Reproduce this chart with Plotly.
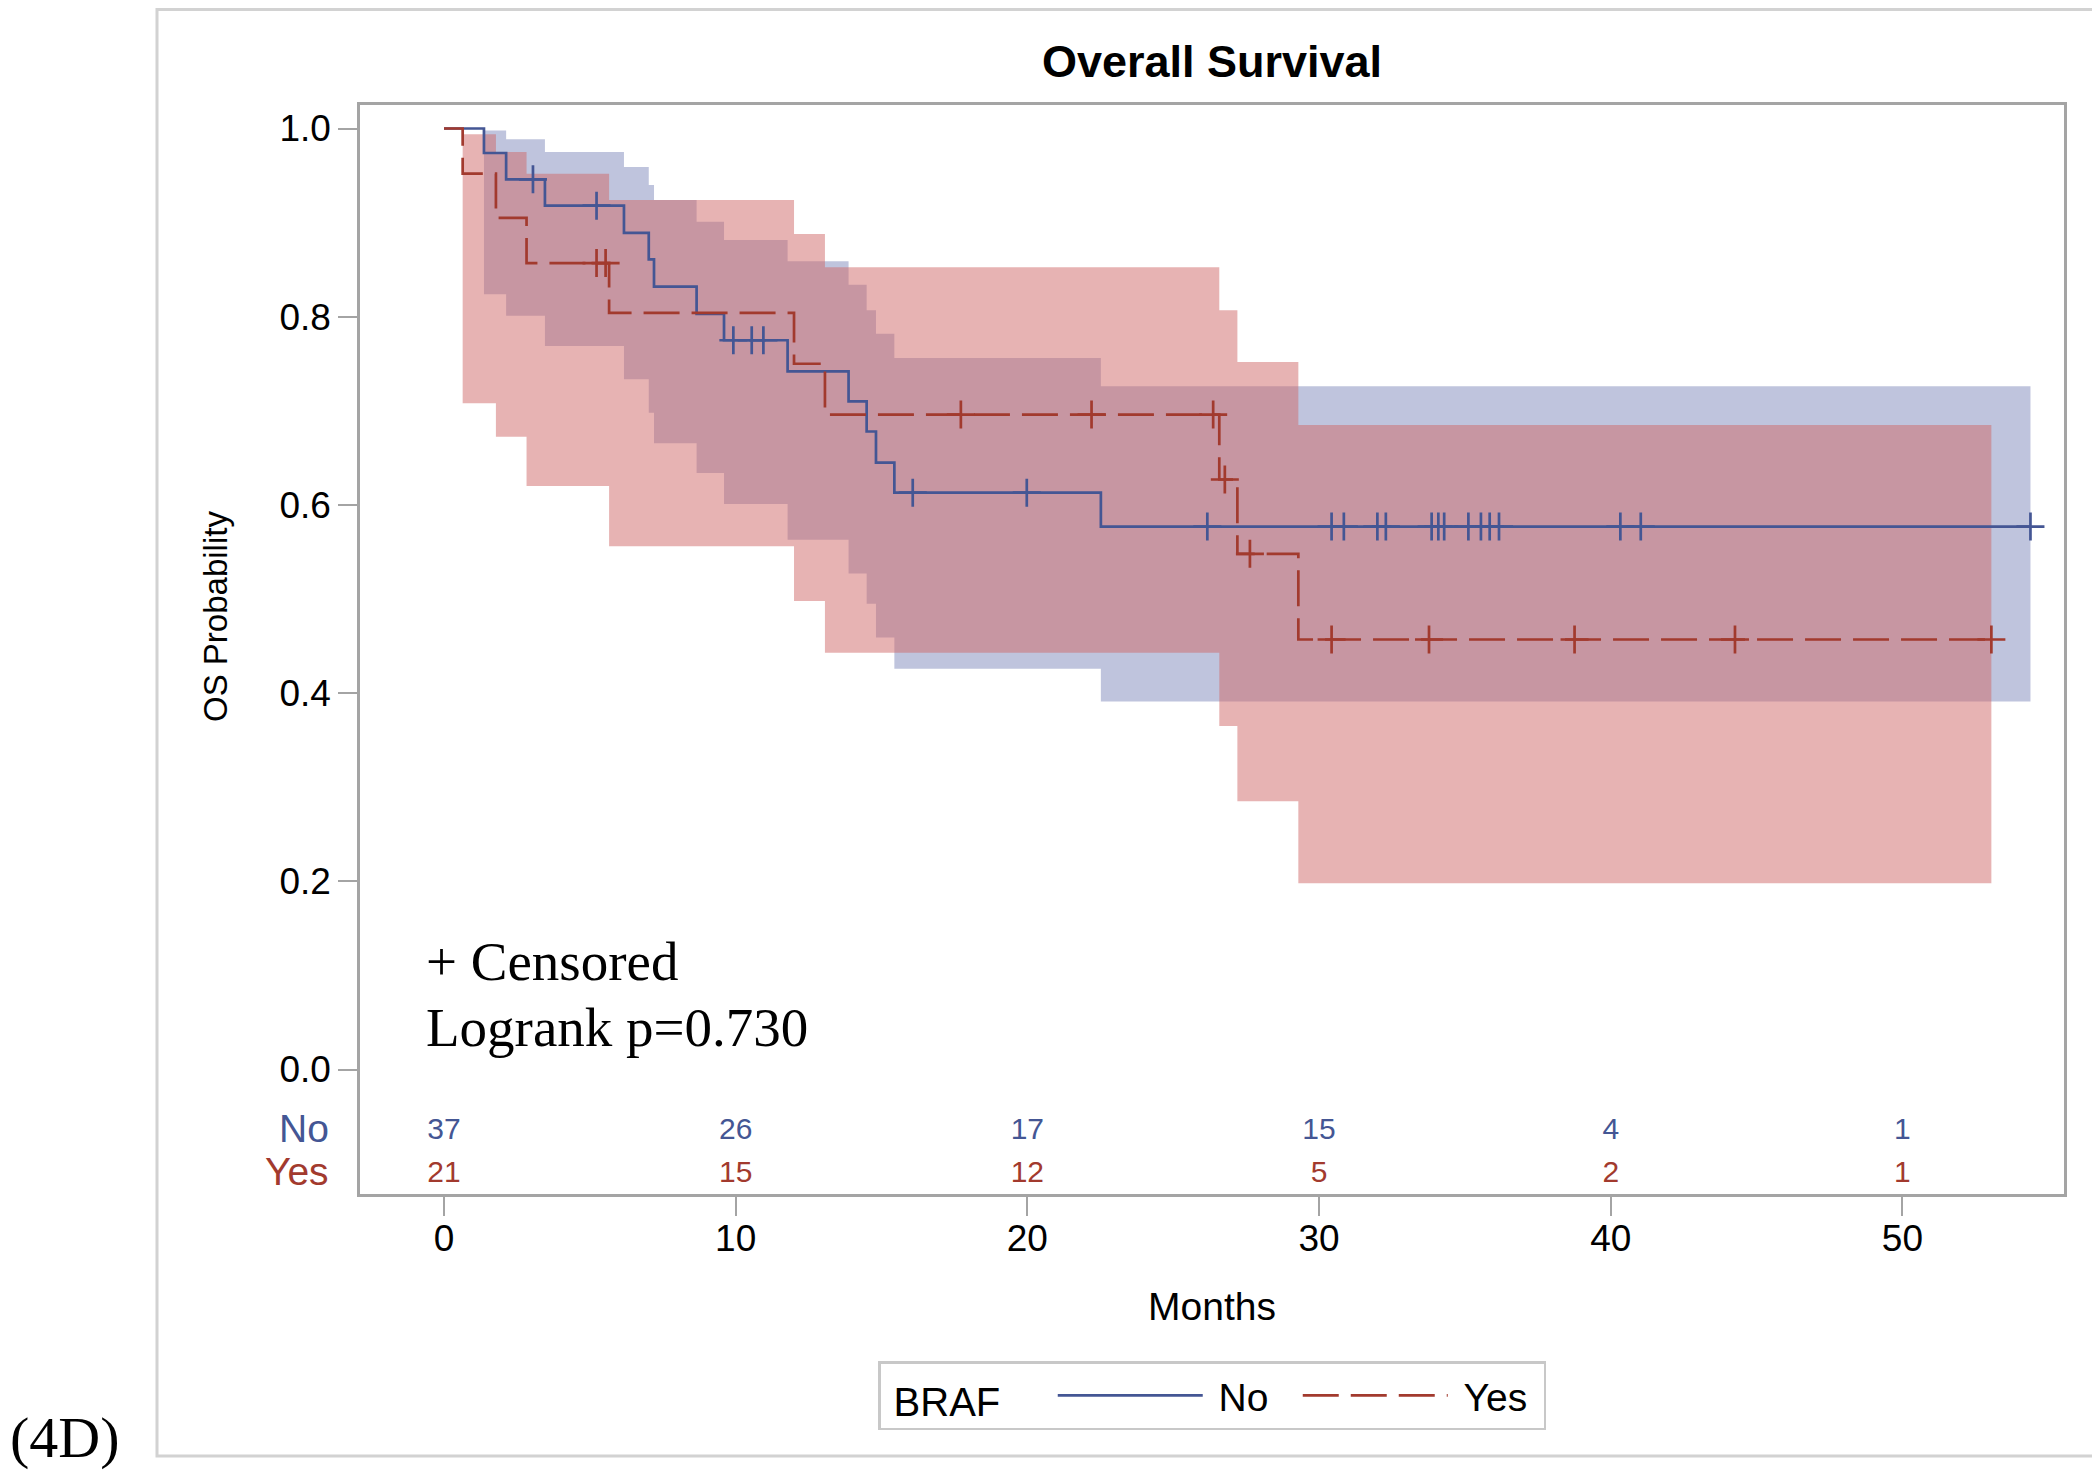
import plotly.graph_objects as go

# ---------------- data ----------------
# Kaplan-Meier step curves: time of each step (months) and survival after it
no_times = [0, 1.37, 2.13, 3.46, 6.17, 7.02, 7.2, 8.66, 9.6, 11.78, 13.87, 14.49, 14.81, 15.44, 22.52, 54.39]
no_surv = [1.0, 0.974, 0.946, 0.918, 0.889, 0.861, 0.832, 0.803, 0.775, 0.742, 0.710, 0.678, 0.645, 0.613, 0.577, 0.577]
yes_times = [0, 0.64, 1.78, 2.83, 5.66, 12.0, 13.06, 26.58, 27.2, 29.29, 53.05]
yes_surv = [1.0, 0.952, 0.905, 0.857, 0.804, 0.750, 0.696, 0.627, 0.548, 0.457, 0.457]

# censored observation times
no_censor = [3.05, 5.23, 9.92, 10.55, 10.95, 16.07, 19.98, 26.17, 30.43, 30.85, 32.0, 32.29,
             33.86, 34.09, 34.29, 35.12, 35.55, 35.85, 36.17, 40.33, 41.03, 54.39]
yes_censor = [5.23, 5.54, 17.72, 22.2, 26.37, 26.77, 27.63, 30.43, 33.77, 38.76, 44.26, 53.05]

# confidence bands (step functions)
no_band_times = [1.37, 2.13, 3.46, 6.17, 7.02, 7.2, 8.66, 9.6, 11.78, 13.87, 14.49, 14.81, 15.44, 22.52, 54.39]
no_upper = [0.998, 0.9885, 0.975, 0.959, 0.940, 0.924, 0.901, 0.8815, 0.859, 0.834, 0.807, 0.782, 0.756, 0.726, 0.726]
no_lower = [0.824, 0.801, 0.769, 0.7335, 0.698, 0.6655, 0.634, 0.601, 0.563, 0.527, 0.495, 0.459, 0.426, 0.391, 0.391]
yes_band_times = [0.64, 1.78, 2.83, 5.66, 12.0, 13.06, 26.58, 27.2, 29.29, 53.05]
yes_upper = [0.994, 0.975, 0.952, 0.924, 0.888, 0.8525, 0.807, 0.752, 0.685, 0.685]
yes_lower = [0.708, 0.6725, 0.620, 0.556, 0.498, 0.443, 0.365, 0.285, 0.198, 0.198]

# number at risk table
risk_times = [0, 10, 20, 30, 40, 50]
risk_no = [37, 26, 17, 15, 4, 1]
risk_yes = [21, 15, 12, 5, 2, 1]

x_ticks = [0, 10, 20, 30, 40, 50]
y_ticks = [0.0, 0.2, 0.4, 0.6, 0.8, 1.0]
y_ticktext = ["0.0", "0.2", "0.4", "0.6", "0.8", "1.0"]

# ---------------- style / geometry ----------------
BLUE = "#445694"
RED = "#A23A2E"
BLUE_FILL = "rgba(127,137,187,0.5)"
RED_FILL = "rgba(208,104,104,0.5)"
FRAME = "#A4A4A4"
SANS = "Liberation Sans, Arial, sans-serif"
SERIF = "Liberation Serif, Times New Roman, serif"
NB = "&nbsp;"

OFF = 8                      # default page margin of the html body
W, H = 2100 - OFF, 1472 - OFF
L, R, T, B = 360 - OFF, 36, 105 - OFF, 278
pw = W - L - R
ph = H - T - B

ROW_NO, ROW_YES = -0.0659, -0.1112   # y positions of the at-risk rows


def sx(px):  # screen x -> paper x
    return (px - OFF - L) / pw


def sy(py):  # screen y -> paper y
    return (H - B - (py - OFF)) / ph


def step_at(times, surv, t):
    val = surv[0]
    for ti, si in zip(times, surv):
        if ti <= t:
            val = si
    return val


fig = go.Figure()

# confidence bands
fig.add_trace(go.Scatter(x=no_band_times, y=no_lower, mode="lines", line=dict(width=0, shape="hv"),
                         showlegend=False, hoverinfo="skip"))
fig.add_trace(go.Scatter(x=no_band_times, y=no_upper, mode="lines", line=dict(width=0, shape="hv"),
                         fill="tonexty", fillcolor=BLUE_FILL, showlegend=False, hoverinfo="skip"))
fig.add_trace(go.Scatter(x=yes_band_times, y=yes_lower, mode="lines", line=dict(width=0, shape="hv"),
                         showlegend=False, hoverinfo="skip"))
fig.add_trace(go.Scatter(x=yes_band_times, y=yes_upper, mode="lines", line=dict(width=0, shape="hv"),
                         fill="tonexty", fillcolor=RED_FILL, showlegend=False, hoverinfo="skip"))

# survival curves
fig.add_trace(go.Scatter(x=no_times, y=no_surv, mode="lines", name=NB + "No",
                         line=dict(color=BLUE, width=2.7, shape="hv")))
fig.add_trace(go.Scatter(x=yes_times, y=yes_surv, mode="lines", name=NB + "Yes",
                         line=dict(color=RED, width=2.7, shape="hv", dash="36px,12px")))

# censor marks
fig.add_trace(go.Scatter(x=no_censor, y=[step_at(no_times, no_surv, t) for t in no_censor],
                         mode="markers", showlegend=False, hoverinfo="skip",
                         marker=dict(symbol="cross-thin", size=20, line=dict(color=BLUE, width=2.7))))
fig.add_trace(go.Scatter(x=yes_censor, y=[step_at(yes_times, yes_surv, t) for t in yes_censor],
                         mode="markers", showlegend=False, hoverinfo="skip",
                         marker=dict(symbol="cross-thin", size=20, line=dict(color=RED, width=2.7))))

# at-risk numbers
fig.add_trace(go.Scatter(x=risk_times, y=[ROW_NO] * len(risk_times), mode="text",
                         text=[str(v) for v in risk_no], textposition="middle center",
                         textfont=dict(family=SANS, size=30, color=BLUE),
                         showlegend=False, hoverinfo="skip", cliponaxis=False))
fig.add_trace(go.Scatter(x=risk_times, y=[ROW_YES] * len(risk_times), mode="text",
                         text=[str(v) for v in risk_yes], textposition="middle center",
                         textfont=dict(family=SANS, size=30, color=RED),
                         showlegend=False, hoverinfo="skip", cliponaxis=False))

annotations = [
    dict(text="No", xref="paper", x=sx(331), xanchor="right", yref="y", y=ROW_NO + 0.0032,
         yanchor="middle", showarrow=False, font=dict(family=SANS, size=39, color=BLUE)),
    dict(text="Yes", xref="paper", x=sx(331), xanchor="right", yref="y", y=ROW_YES + 0.0032,
         yanchor="middle", showarrow=False, font=dict(family=SANS, size=39, color=RED)),
    dict(text="+ Censored", xref="x", x=-0.7, xanchor="left", yref="y", y=0.1164 - 0.002, yanchor="middle",
         showarrow=False, font=dict(family=SERIF, size=55, color="black")),
    dict(text="Logrank p=0.730", xref="x", x=-0.7, xanchor="left", yref="y", y=0.0462 - 0.002, yanchor="middle",
         showarrow=False, font=dict(family=SERIF, size=55, color="black")),
    dict(text="OS Probability", textangle=-90, xref="paper", x=sx(215), xanchor="center",
         yref="paper", y=sy(617), yanchor="middle", showarrow=False,
         font=dict(family=SANS, size=33, color="black")),
    dict(text="(4D)", xref="paper", x=sx(OFF), xanchor="left", yref="paper",
         y=sy(1472), yanchor="bottom", showarrow=False,
         font=dict(family=SERIF, size=58, color="black")),
]

shapes = [
    dict(type="rect", xref="paper", yref="paper", x0=sx(157), x1=sx(2097),
         y0=sy(1456), y1=sy(OFF + 1.5), line=dict(color="#D2D2D2", width=3), layer="below"),
]

axis_common = dict(showline=True, linecolor=FRAME, linewidth=2.5, mirror=True, showgrid=False,
                   zeroline=False, ticks="outside", ticklen=19, tickwidth=2, tickcolor=FRAME,
                   tickfont=dict(family=SANS, size=37, color="black"))

fig.update_layout(
    width=W, height=H,
    margin=dict(l=L, r=R, t=T, b=B, autoexpand=False),
    paper_bgcolor="white", plot_bgcolor="white",
    title=dict(text="<b>Overall Survival</b>", xref="paper", x=0.5, xanchor="center",
               yref="container", y=1 - (61.6 - OFF) / H, yanchor="middle",
               font=dict(family=SANS, size=45, color="black")),
    xaxis=dict(range=[-2.88, 55.54], tickvals=x_ticks, ticktext=[str(v) for v in x_ticks],
               ticklabelstandoff=-9,
               title=dict(text="Months", standoff=35, font=dict(family=SANS, size=39, color="black")),
               **axis_common),
    yaxis=dict(range=[-0.1323, 1.025], tickvals=y_ticks, ticktext=y_ticktext, ticklabelstandoff=0,
               **axis_common),
    legend=dict(orientation="h", traceorder="normal", x=sx(878), xanchor="left", y=sy(1361), yanchor="top",
                title=dict(text=NB + "BRAF" + NB * 4, side="left",
                           font=dict(family=SANS, size=40, color="black")),
                font=dict(family=SANS, size=39, color="black"),
                bgcolor="white", bordercolor="#C8C8C8", borderwidth=2.5,
                itemwidth=145, entrywidth=85, entrywidthmode="pixels"),
    annotations=annotations,
    shapes=shapes,
)

fig.write_html("out.html")
